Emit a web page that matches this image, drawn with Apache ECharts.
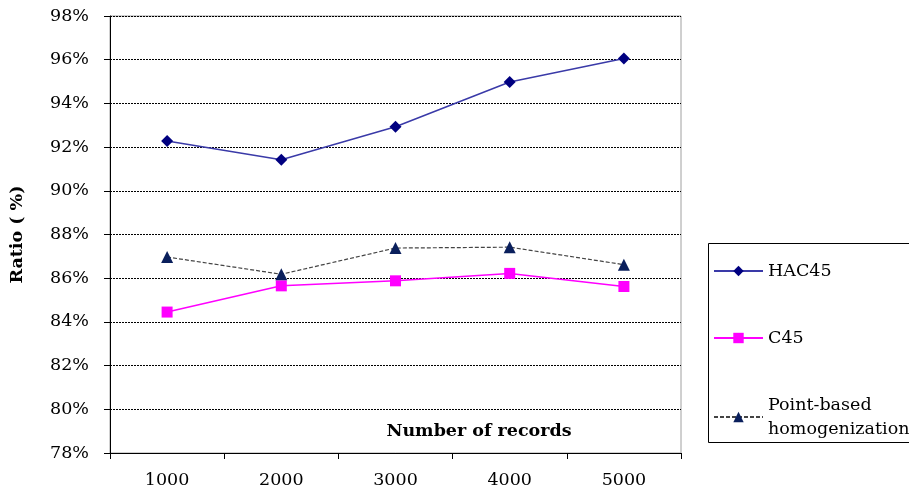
<!DOCTYPE html>
<html><head><meta charset="utf-8">
<script src="https://cdn.jsdelivr.net/npm/echarts@6/dist/echarts.min.js"></script>
<style>html,body{margin:0;padding:0;background:#fff}#c{width:909px;height:490px}</style>
</head><body><div id="c"></div>
<script>
const categories = ['1000','2000','3000','4000','5000'];
const hac45 = [92.28, 91.42, 92.93, 94.98, 96.05];
const c45 = [84.45, 85.65, 85.88, 86.22, 85.62];
const pointBased = [86.97, 86.18, 87.38, 87.42, 86.62];
const seriesNames = ['HAC45', 'C45', 'Point-based\nhomogenization'];
const xTitle = 'Number of records';
const yTitle = 'Ratio ( %)';

const serif = 'DejaVu Serif';
const fs = 17.5;
const chart = echarts.init(document.getElementById('c'));
chart.setOption({
  animation: false,
  backgroundColor: '#fff',
  grid: { left: 110, top: 16, right: 228, bottom: 37, show: true, borderColor: '#a0a0a0', borderWidth: 1 },
  graphic: [
    { type: 'rect', left: 706, top: 241, shape: { width: 230, height: 199 },
      style: { fill: 'none', stroke: '#000', lineWidth: 1 } },
    { type: 'text', x: 479, y: 431, style: { text: xTitle, fontFamily: serif, fontSize: fs, fontWeight: 'bold',
      fill: '#000', align: 'center', verticalAlign: 'middle' } }
  ],
  legend: {
    orient: 'vertical', left: 708, top: 254,
    itemWidth: 49, itemHeight: 13, itemGap: 43,
    data: seriesNames,
    textStyle: { fontFamily: serif, fontSize: fs, color: '#000', lineHeight: 24 }
  },
  xAxis: {
    type: 'category', data: categories, boundaryGap: true,
    axisLine: { lineStyle: { color: '#000', width: 1 } },
    axisTick: { show: true, alignWithLabel: false, length: 6, lineStyle: { color: '#000' } },
    axisLabel: { fontFamily: serif, fontSize: fs, color: '#000', margin: 18 },
    splitLine: { show: false }
  },
  yAxis: {
    type: 'value', min: 78, max: 98, interval: 2,
    name: yTitle, nameLocation: 'middle', nameGap: 84,
    nameTextStyle: { fontFamily: serif, fontSize: fs, fontWeight: 'bold', color: '#000' },
    axisLine: { show: true, lineStyle: { color: '#000', width: 1 } },
    axisTick: { show: true, length: 6, lineStyle: { color: '#000' } },
    axisLabel: { fontFamily: serif, fontSize: fs, color: '#000', margin: 21, formatter: v => v + '%' },
    splitLine: { show: true, lineStyle: { color: '#000', type: [2, 1], width: 1 } }
  },
  series: [
    { name: seriesNames[0], type: 'line', data: hac45, symbol: 'diamond', symbolSize: 12,
      itemStyle: { color: '#000080' }, lineStyle: { color: '#3a3aa8', width: 1.5 } },
    { name: seriesNames[1], type: 'line', data: c45, symbol: 'rect', symbolSize: 11,
      itemStyle: { color: '#ff00ff' }, lineStyle: { color: '#ff00ff', width: 1.5 } },
    { name: seriesNames[2], type: 'line', data: pointBased, symbol: 'triangle', symbolSize: 12,
      itemStyle: { color: '#0a1f5c' }, lineStyle: { color: '#444', width: 1.2, type: [4, 2] } }
  ]
});
</script></body></html>
